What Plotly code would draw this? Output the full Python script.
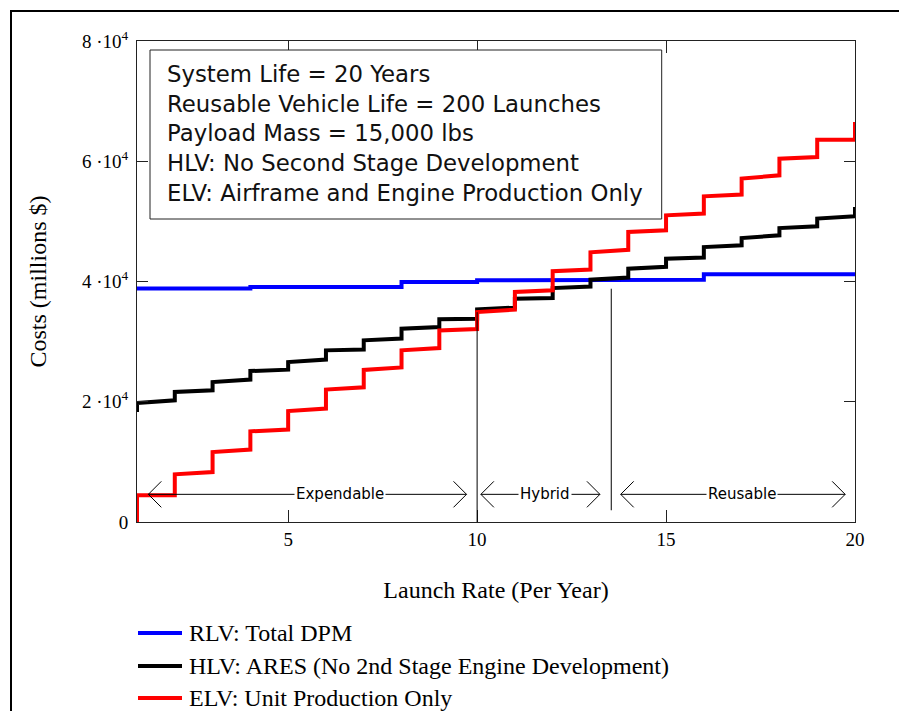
import plotly.graph_objects as go

# ---------------- data ----------------
launch_rate = list(range(1, 21))

rlv_initial = 38820
rlv_step_start = [38820, 38820, 38820, 39080, 39080, 39080, 39080, 39910, 39910, 40200,
                  40200, 40200, 40200, 40300, 40300, 41190, 41190, 41190, 41190, 41190]
rlv_step_end = [38820, 38820, 38820, 39080, 39080, 39080, 39080, 39910, 39910, 40200,
                40200, 40200, 40200, 40300, 40300, 41190, 41190, 41190, 41190]

hlv_initial = 18290
hlv_step_start = [19790, 21620, 23280, 25110, 26610, 28550, 30220, 32160, 33710, 35370,
                  37150, 38900, 40300, 42140, 43800, 45730, 47230, 48890, 50460, 52380]
hlv_step_end = [20240, 21900, 23680, 25340, 27010, 28670, 30500, 32430, 33800, 35650,
                37250, 39150, 40650, 42450, 44000, 46020, 47680, 49170, 50840]

elv_initial = 0
elv_step_start = [4440, 7935, 11640, 15080, 18460, 22020, 25300, 28550, 31850, 34920,
                  38250, 41700, 44850, 48230, 51000, 54160, 57110, 60430, 63590, 66520]
elv_step_end = [4440, 8315, 12040, 15370, 18860, 22400, 25700, 28940, 32100, 35320,
                38530, 42000, 45270, 48510, 51290, 54450, 57660, 60700, 63590]

series_names = ["RLV: Total DPM",
                "HLV: ARES (No 2nd Stage Engine Development)",
                "ELV: Unit Production Only"]
series_colors = ["#0000FF", "#000000", "#FF0000"]

y_tick_vals = [0, 20000, 40000, 60000, 80000]
y_tick_text = ["0", "2 \u00b710<sup>4</sup>", "4 \u00b710<sup>4</sup>",
               "6 \u00b710<sup>4</sup>", "8 \u00b710<sup>4</sup>"]
x_tick_vals = [5, 10, 15, 20]
x_tick_text = ["5", "10", "15", "20"]

info_lines = ["System Life = 20 Years",
              "Reusable Vehicle Life = 200 Launches",
              "Payload Mass = 15,000 lbs",
              "HLV: No Second Stage Development",
              "ELV: Airframe and Engine Production Only"]

region_labels = ["Expendable", "Hybrid", "Reusable"]
region_left = [1.30, 10.10, 13.80]
region_right = [9.72, 13.25, 19.74]
region_label_x = [6.37, 11.80, 17.0]
region_arrow_y = 4600

boundary_x = [10.0, 13.55]
boundary_bottom = [0, 1950]
boundary_top = [34900, 38800]

# ---------------- layout constants ----------------
W, H = 899, 711
P_LEFT, P_RIGHT, P_TOP, P_BOTTOM = 137, 855, 41, 522
ML, MT, MR, MB = P_LEFT, P_TOP, W - P_RIGHT, H - P_BOTTOM
PW, PH = P_RIGHT - P_LEFT, P_BOTTOM - P_TOP
X_RANGE = [1, 20]
Y_RANGE = [0, 80000]
px_per_x = PW / (X_RANGE[1] - X_RANGE[0])
px_per_y = PH / (Y_RANGE[1] - Y_RANGE[0])

SERIF = "Liberation Serif, Times New Roman, serif"
SANS = "DejaVu Sans, Arial, sans-serif"

LEGEND_ROW_Y = [633, 666, 698]
LEGEND_LINE_X = [138, 182]
LEGEND_TEXT_X = 187


def paper_x(px):
    return (px - P_LEFT) / PW


def paper_y(py):
    return (P_BOTTOM - py) / PH


def step_path(initial, starts, ends):
    xs, ys = [launch_rate[0]], [initial]
    for i, k in enumerate(launch_rate):
        xs.append(k)
        ys.append(starts[i])
        if i < len(ends):
            xs.append(launch_rate[i + 1])
            ys.append(ends[i])
    return xs, ys


fig = go.Figure()
for name, color, (ini, st, en) in zip(
        series_names, series_colors,
        [(rlv_initial, rlv_step_start, rlv_step_end),
         (hlv_initial, hlv_step_start, hlv_step_end),
         (elv_initial, elv_step_start, elv_step_end)]):
    xs, ys = step_path(ini, st, en)
    fig.add_trace(go.Scatter(x=xs, y=ys, mode="lines", name=name, showlegend=False,
                             line=dict(color=color, width=4)))

shapes = []
# outer frame (top and left edges)
shapes.append(dict(type="line", xref="paper", yref="paper",
                   x0=paper_x(10), x1=paper_x(W + 20), y0=paper_y(11), y1=paper_y(11),
                   line=dict(color="black", width=2)))
shapes.append(dict(type="line", xref="paper", yref="paper",
                   x0=paper_x(11), x1=paper_x(11), y0=paper_y(10), y1=paper_y(H + 20),
                   line=dict(color="black", width=2)))
# info box
shapes.append(dict(type="rect", xref="paper", yref="paper",
                   x0=paper_x(150), x1=paper_x(661.7), y0=paper_y(219), y1=paper_y(50),
                   line=dict(color="#222222", width=1), fillcolor="white", layer="above"))
# region boundaries
for bx, b0, b1 in zip(boundary_x, boundary_bottom, boundary_top):
    shapes.append(dict(type="line", xref="x", yref="y", x0=bx, x1=bx, y0=b0, y1=b1,
                       line=dict(color="black", width=1)))
# region arrows
head_dx = 13 / px_per_x
head_dy = 13 / px_per_y
for l, r in zip(region_left, region_right):
    shapes.append(dict(type="line", xref="x", yref="y", x0=l, x1=r,
                       y0=region_arrow_y, y1=region_arrow_y,
                       line=dict(color="black", width=1)))
    shapes.append(dict(type="path", xref="x", yref="y",
                       path=f"M{l + head_dx},{region_arrow_y + head_dy} L{l},{region_arrow_y} "
                            f"L{l + head_dx},{region_arrow_y - head_dy}",
                       line=dict(color="black", width=1)))
    shapes.append(dict(type="path", xref="x", yref="y",
                       path=f"M{r - head_dx},{region_arrow_y + head_dy} L{r},{region_arrow_y} "
                            f"L{r - head_dx},{region_arrow_y - head_dy}",
                       line=dict(color="black", width=1)))
# legend samples
for ry, color in zip(LEGEND_ROW_Y, series_colors):
    shapes.append(dict(type="line", xref="paper", yref="paper",
                       x0=paper_x(LEGEND_LINE_X[0]), x1=paper_x(LEGEND_LINE_X[1]),
                       y0=paper_y(ry), y1=paper_y(ry),
                       line=dict(color=color, width=4)))

annotations = []
for lab, lx in zip(region_labels, region_label_x):
    annotations.append(dict(x=lx, y=region_arrow_y, xref="x", yref="y", text=lab,
                            showarrow=False, bgcolor="white", borderpad=1,
                            font=dict(family=SANS, size=15, color="black")))
annotations.append(dict(x=paper_x(165), y=paper_y(134), xref="paper", yref="paper",
                        text="<br>".join(info_lines), align="left",
                        xanchor="left", yanchor="middle", showarrow=False,
                        font=dict(family=SANS, size=22.8, color="#111111")))
for ry, name in zip(LEGEND_ROW_Y, series_names):
    annotations.append(dict(x=paper_x(LEGEND_TEXT_X), y=paper_y(ry), xref="paper", yref="paper",
                            text=name, xanchor="left", yanchor="middle", showarrow=False,
                            font=dict(family=SERIF, size=24, color="black")))

fig.update_layout(
    width=W, height=H,
    margin=dict(l=ML, r=MR, t=MT, b=MB, autoexpand=False),
    paper_bgcolor="white", plot_bgcolor="white",
    shapes=shapes, annotations=annotations,
    showlegend=False, hovermode=False,
    xaxis=dict(range=X_RANGE, tickvals=x_tick_vals, ticktext=x_tick_text,
               ticks="inside", ticklen=12, tickcolor="#222222",
               showline=True, linecolor="#222222", linewidth=1, mirror="ticks",
               showgrid=False, zeroline=False,
               tickfont=dict(family=SERIF, size=19, color="black"),
               title=dict(text="Launch Rate (Per Year)", standoff=32,
                          font=dict(family=SERIF, size=24, color="black"))),
    yaxis=dict(range=Y_RANGE, tickvals=y_tick_vals, ticktext=y_tick_text,
               ticks="inside", ticklen=11, tickcolor="#222222",
               showline=True, linecolor="#222222", linewidth=1, mirror="ticks",
               showgrid=False, zeroline=False, ticklabelstandoff=4,
               tickfont=dict(family=SERIF, size=19, color="black"),
               title=dict(text="Costs (millions $)", standoff=28,
                          font=dict(family=SERIF, size=24, color="black"))),
)

fig.write_html("out.html",
               config={"displayModeBar": False, "staticPlot": True},
               post_script="document.body.style.margin='0';"
                           "document.body.style.overflow='hidden';")
